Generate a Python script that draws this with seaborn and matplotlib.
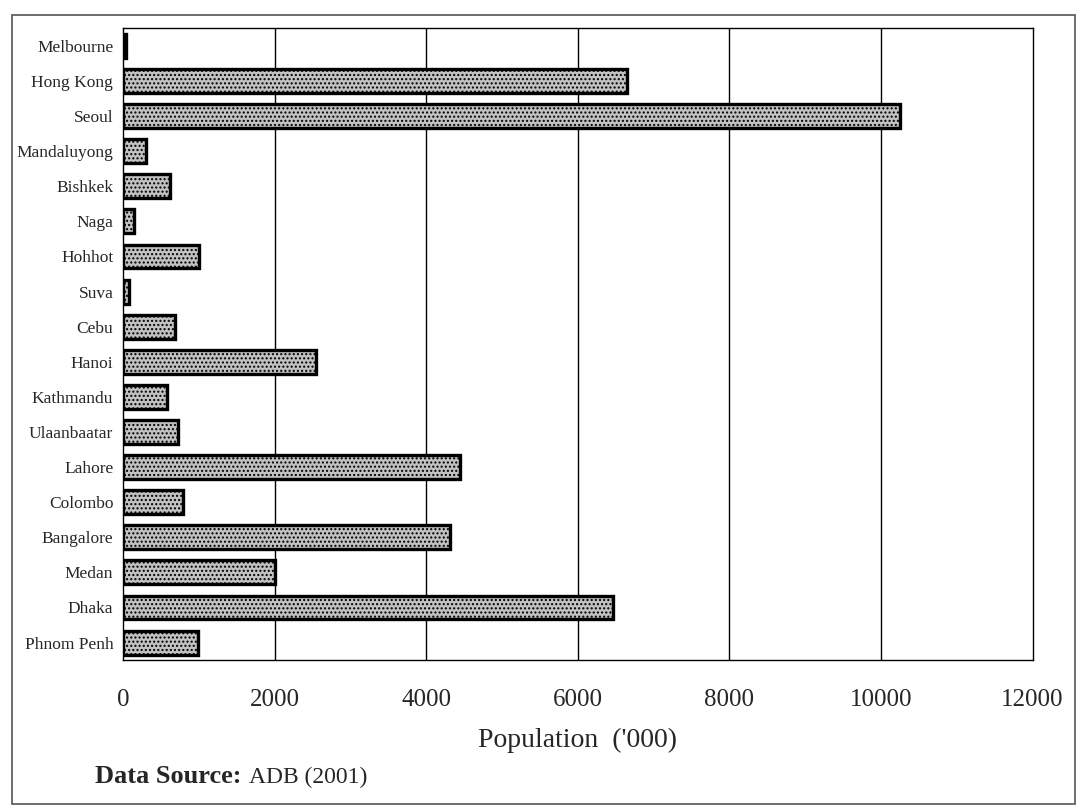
import pandas as pd
import matplotlib.pyplot as plt
import matplotlib.patches as mpatches
import seaborn as sns

cities = ["Melbourne", "Hong Kong", "Seoul", "Mandaluyong", "Bishkek", "Naga",
          "Hohhot", "Suva", "Cebu", "Hanoi", "Kathmandu", "Ulaanbaatar",
          "Lahore", "Colombo", "Bangalore", "Medan", "Dhaka", "Phnom Penh"]
population = [40, 6650, 10250, 300, 620, 140, 1000, 80, 680, 2550, 580, 720,
              4440, 790, 4310, 2000, 6470, 990]
xticks = [0, 2000, 4000, 6000, 8000, 10000, 12000]

df = pd.DataFrame({"city": cities, "population": population})

sns.set_style("white")
plt.rcParams['font.family'] = ['Liberation Serif', 'DejaVu Serif']
plt.rcParams['hatch.color'] = '#6a6a6a'

fig = plt.figure(figsize=(10.79, 8.09), dpi=100)
ax = fig.add_axes([0.114, 0.184, 0.843, 0.781])

sns.barplot(data=df, x="population", y="city", orient="h", color="#c2c2c2",
            edgecolor="black", linewidth=2.4, width=0.68, hatch="....",
            ax=ax, zorder=3)

ax.set_xlim(0, 12000)
ax.set_xticks(xticks)
ax.set_xticklabels([str(t) for t in xticks], fontsize=18)
ax.tick_params(axis="x", direction="out", length=7, width=1, color="black", pad=14)
ax.tick_params(axis="y", which="major", length=0, labelsize=12.5, pad=7)
ax.set_yticks([i - 0.5 for i in range(len(cities))], minor=True)
ax.tick_params(axis="y", which="minor", direction="out", length=3, width=0.8, color="black")
for t in xticks[1:-1]:
    ax.axvline(t, color="black", linewidth=1, zorder=1)
for s in ax.spines.values():
    s.set_color("black")
    s.set_linewidth(1)

ax.set_xlabel("Population  ('000)", fontsize=20, labelpad=12)
ax.set_ylabel("")

t1 = fig.text(0.088, 0.026, "Data Source:", fontsize=19, fontweight="bold", ha="left", va="bottom")
fig.canvas.draw()
bb = t1.get_window_extent().transformed(fig.transFigure.inverted())
fig.text(bb.x1 + 0.007, 0.026, "ADB (2001)", fontsize=17, ha="left", va="bottom")

frame = mpatches.Rectangle((0.011, 0.006), 0.985, 0.976, transform=fig.transFigure,
                           fill=False, edgecolor="#555555", linewidth=1.2)
fig.patches.append(frame)

fig.savefig("out.png", dpi=100)
